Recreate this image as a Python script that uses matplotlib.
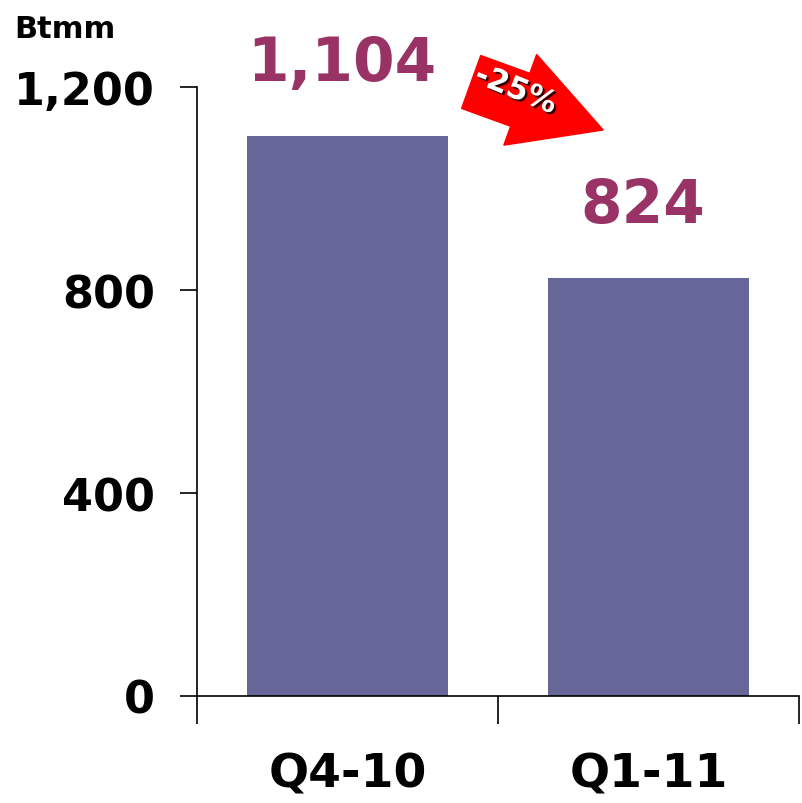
import matplotlib
matplotlib.use("Agg")
import matplotlib.pyplot as plt
import matplotlib.patheffects as pe
from matplotlib.patches import FancyArrow

quarters = ["Q4-10", "Q1-11"]
volumes = [1104, 824]
y_ticks = [0, 400, 800, 1200]
change_text = "-25%"
unit_text = "Btmm"

bar_color = "#666699"
label_color = "#993366"

fig = plt.figure(figsize=(8.02, 8.04), dpi=100)
ax = fig.add_axes([0.2456, 0.1331, 0.7507, 0.7574])

x = list(range(len(quarters)))
ax.bar(x, volumes, width=0.67, color=bar_color, zorder=2)

ax.set_xlim(-0.5, 1.5)
ax.set_ylim(0, 1200)

# value labels above bars
for xi, v in zip(x, volumes):
    ax.annotate(f"{v:,}", (xi, v), xytext=(-4, 40), textcoords="offset points",
                ha="center", va="baseline", fontsize=43, fontweight="bold",
                color=label_color, family="DejaVu Sans")

# y axis
ax.set_yticks(y_ticks)
ax.set_yticklabels([f"{t:,}" for t in y_ticks], fontsize=32, fontweight="bold",
                   family="DejaVu Sans")
ax.tick_params(axis="y", direction="out", length=12, width=1.2, pad=18)

# x axis: separators as major ticks, names as minor ticks
ax.set_xticks([-0.5, 0.5, 1.5])
ax.set_xticklabels([])
ax.set_xticks(x, minor=True)
ax.set_xticklabels(quarters, minor=True, fontsize=34, fontweight="bold",
                   family="DejaVu Sans")
ax.tick_params(axis="x", which="major", direction="out", length=20, width=1.2)
ax.tick_params(axis="x", which="minor", length=0, pad=40)

for s in ["top", "right"]:
    ax.spines[s].set_visible(False)
for s in ["left", "bottom"]:
    ax.spines[s].set_linewidth(1.2)
ax.spines["left"].set_bounds(0, 1200)

fig.text(0.018, 0.953, unit_text, fontsize=22, fontweight="bold",
         family="DejaVu Sans", ha="left", va="baseline")

# red change arrow
arrow = FancyArrow(0.5875, 0.8968, 0.1646, -0.0597, width=0.07,
                   head_width=0.12, head_length=0.11,
                   length_includes_head=True, color="#ff0000",
                   transform=fig.transFigure, zorder=5)
fig.patches.append(arrow)
fig.text(0.643, 0.887, change_text, rotation=-22, fontsize=22, fontweight="bold",
         color="white", ha="center", va="center", family="DejaVu Sans", zorder=6,
         path_effects=[pe.withSimplePatchShadow(offset=(1.5, -1.5), shadow_rgbFace="black", alpha=0.8)])

fig.savefig("out.png", dpi=100)
